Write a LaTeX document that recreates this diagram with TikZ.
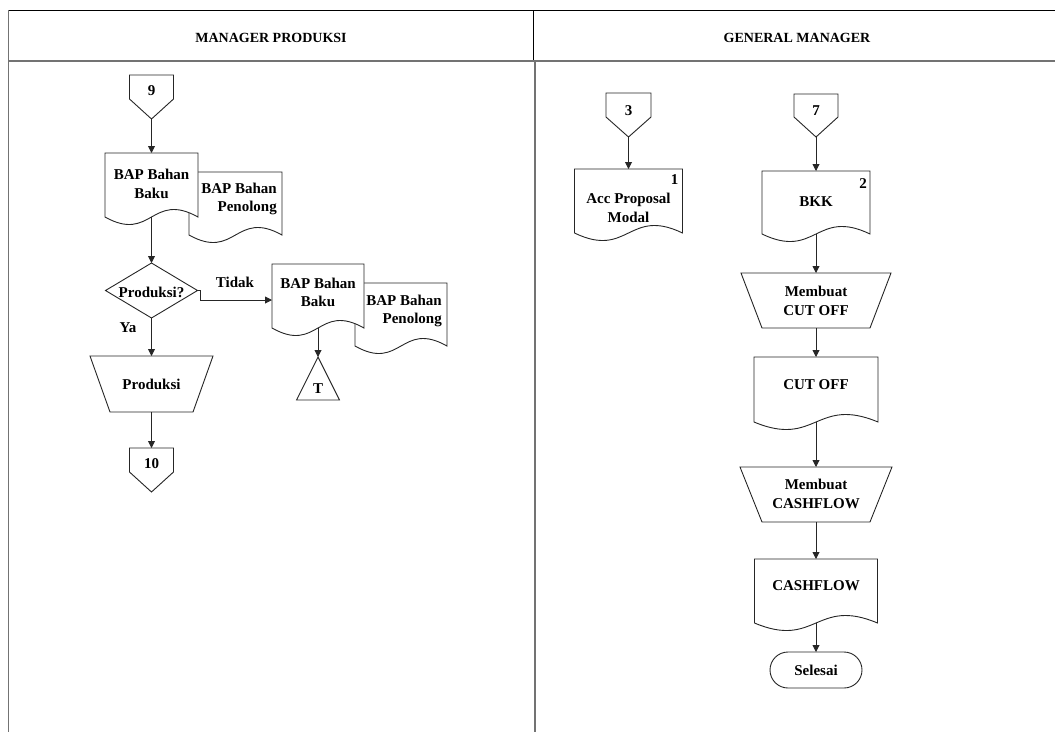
\documentclass[tikz,border=0pt]{standalone}
\usepackage{fontspec}
\setmainfont{Liberation Serif}
\usetikzlibrary{arrows.meta,backgrounds}

% outlines built from the anchors of plain rectangular nodes
\newcommand\docpath[1]{(#1.north west) -- (#1.north east) -- (#1.south east)
  .. controls ([yshift=26pt]#1.south) and ([yshift=-26pt]#1.south) .. (#1.south west) -- cycle}
\newcommand\offpath[1]{(#1.north west) -- (#1.north east) -- ([yshift=20pt]#1.south east)
  -- (#1.south) -- ([yshift=20pt]#1.south west) -- cycle}
\newcommand\trappath[2]{(#1.north west) -- (#1.north east) -- ([xshift=-#2]#1.south east)
  -- ([xshift=#2]#1.south west) -- cycle}
\newcommand\diapath[1]{(#1.north) -- (#1.east) -- (#1.south) -- (#1.west) -- cycle}
\newcommand\tripath[1]{(#1.south west) -- (#1.north) -- (#1.south east) -- cycle}

\tikzset{
  flow/.style={draw=none, inner sep=0pt, outer sep=0pt},
  txt/.style={font=\fontsize{15}{18.5}\selectfont\bfseries, align=center, inner sep=1pt, text=black},
  head/.style={font=\fontsize{14}{16}\selectfont\bfseries, inner sep=1pt},
  outline/.style={draw=black!85, line width=0.9pt, fill=white},
  arr/.style={draw=black!85, line width=0.9pt, -{Triangle[length=7pt,width=7pt]}},
  frame/.style={draw=black, line width=0.8pt},
  lane/.style={draw=black!55, line width=1.6pt},
}

\begin{document}
\begin{tikzpicture}[x=1pt,y=-1pt]
\useasboundingbox (0,0) rectangle (1055,732);

% swimlane frame
\draw[frame] (8,10) -- (1055,10);
\draw[frame] (533,10) -- (533,61);
\draw[lane] (8.5,10) -- (8.5,732);
\draw[lane] (8,61) -- (1055,61);
\draw[lane] (535,61) -- (535,732);
\node[head] (h1) at (271,38) {MANAGER PRODUKSI};
\node[head] (h2) at (797,38) {GENERAL MANAGER};

% ---- Manager Produksi ----
\node[flow, minimum width=44pt, minimum height=44pt] (c9) at (151.5,97) {};
\node[txt] (c9t) at (151.5,91) {9};

\node[flow, minimum width=93pt, minimum height=64pt] (doc1) at (151.5,185) {};
\node[txt] (doc1t) at (151.5,184) {BAP Bahan\\Baku};
\node[flow, minimum width=93pt, minimum height=63pt] (doc2) at (235.5,203.5) {};
\node[txt, align=right, anchor=east] (doc2t) at (278,199) {BAP Bahan\\Penolong};

\node[flow, minimum width=92pt, minimum height=55pt] (dia) at (151.5,290.5) {};
\node[txt] (diat) at (151.5,292) {Produksi?};
\node[txt] (tidak) at (235,282) {Tidak};
\node[txt] (ya) at (128,328) {Ya};

\node[flow, minimum width=92pt, minimum height=64pt] (doc3) at (318,296) {};
\node[txt] (doc3t) at (318,292.5) {BAP Bahan\\Baku};
\node[flow, minimum width=92pt, minimum height=63pt] (doc4) at (401,314.5) {};
\node[txt, align=right, anchor=east] (doc4t) at (443,311) {BAP Bahan\\Penolong};

\node[flow, minimum width=43pt, minimum height=43pt] (tri) at (318,378.5) {};
\node[txt] (trit) at (318,389) {T};

\node[flow, minimum width=123pt, minimum height=56pt] (trap0) at (151.5,384) {};
\node[txt] (trap0t) at (151.5,384) {Produksi};

\node[flow, minimum width=44pt, minimum height=44pt] (c10) at (151.5,470) {};
\node[txt] (c10t) at (151.5,464) {10};

% ---- General Manager ----
\node[flow, minimum width=45pt, minimum height=44pt] (c3) at (628.5,115) {};
\node[txt] (c3t) at (628.5,111) {3};
\node[flow, minimum width=108pt, minimum height=64pt] (acc) at (628.5,201) {};
\node[txt] (acct) at (628.5,208) {Acc Proposal\\Modal};
\node[txt, anchor=north east] (n1) at ([xshift=-3pt,yshift=-4pt]acc.north east) {1};

\node[flow, minimum width=44pt, minimum height=43pt] (c7) at (816,115.5) {};
\node[txt] (c7t) at (816,111) {7};
\node[flow, minimum width=108pt, minimum height=63pt] (bkk) at (816,202.5) {};
\node[txt] (bkkt) at (816,202) {BKK};
\node[txt, anchor=north east] (n2) at ([xshift=-2pt,yshift=-6pt]bkk.north east) {2};

\node[flow, minimum width=150pt, minimum height=55pt] (trap1) at (816,300.5) {};
\node[txt] (trap1t) at (816,301) {Membuat\\CUT OFF};

\node[flow, minimum width=124pt, minimum height=65pt] (cut) at (816,389.5) {};
\node[txt] (cutt) at (816,385) {CUT OFF};

\node[flow, minimum width=152pt, minimum height=55pt] (trap2) at (816,494.5) {};
\node[txt] (trap2t) at (816,494) {Membuat\\CASHFLOW};

\node[flow, minimum width=123pt, minimum height=64pt] (cash) at (816,591) {};
\node[txt] (casht) at (816,586) {CASHFLOW};

\node[txt, flow, draw=black!85, line width=0.9pt, rounded corners=18pt,
      minimum width=92pt, minimum height=36pt] (sel) at (816,670) {Selesai};

% shape outlines behind the texts
\begin{scope}[on background layer]
\draw[outline] \offpath{c9};
\draw[outline] \docpath{doc2};
\draw[outline] \docpath{doc1};
\draw[outline] \diapath{dia};
\draw[outline] \docpath{doc4};
\draw[outline] \docpath{doc3};
\draw[outline] \tripath{tri};
\draw[outline] \trappath{trap0}{20pt};
\draw[outline] \offpath{c10};
\draw[outline] \offpath{c3};
\draw[outline] \docpath{acc};
\draw[outline] \offpath{c7};
\draw[outline] \docpath{bkk};
\draw[outline] \trappath{trap1}{21pt};
\draw[outline] \docpath{cut};
\draw[outline] \trappath{trap2}{22pt};
\draw[outline] \docpath{cash};
\end{scope}

% connectors
\draw[arr] (c9.south) -- (doc1.north);
\draw[arr] (doc1.south) -- (dia.north);
\draw[arr] (dia.east) -- ++(3,0) |- ([yshift=-4pt]doc3.west);
\draw[arr] (doc3.south) -- (tri.north);
\draw[arr] (dia.south) -- (trap0.north);
\draw[arr] (trap0.south) -- (c10.north);

\draw[arr] (c3.south) -- (acc.north);
\draw[arr] (c7.south) -- (bkk.north);
\draw[arr] (bkk.south) -- (trap1.north);
\draw[arr] (trap1.south) -- (cut.north);
\draw[arr] (cut.south) -- (trap2.north);
\draw[arr] (trap2.south) -- (cash.north);
\draw[arr] (cash.south) -- (sel.north);
\end{tikzpicture}
\end{document}
